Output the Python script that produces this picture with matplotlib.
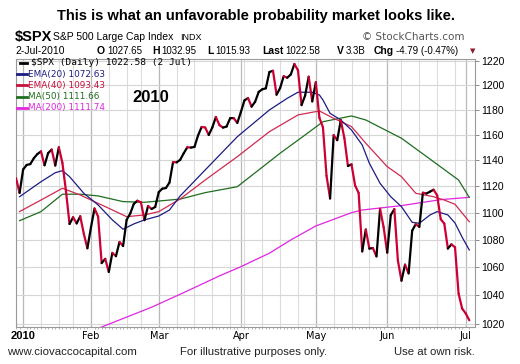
import numpy as np
import pandas as pd
import matplotlib
matplotlib.use('Agg')
import matplotlib.pyplot as plt
from matplotlib.collections import LineCollection
from matplotlib.lines import Line2D
from matplotlib.ticker import NullLocator

# daily closes, 30-Dec-2009 .. 2-Jul-2010
price = [1126.42, 1115.10,
         1132.99, 1136.52, 1137.14, 1141.69, 1144.98, 1146.98, 1136.22, 1145.68, 1148.46, 1136.03,
         1150.23, 1138.04, 1116.48, 1091.76, 1096.78, 1092.17, 1097.50, 1084.53, 1073.87,
         1089.19, 1103.32, 1097.28, 1063.11, 1066.19, 1056.74, 1070.52, 1068.13, 1078.47, 1075.51,
         1094.87, 1099.51, 1106.75, 1109.17, 1108.01, 1094.60, 1105.24, 1102.94, 1104.49,
         1115.71, 1118.31, 1118.79, 1122.97, 1138.70, 1138.50, 1140.45, 1145.61, 1150.24, 1149.99,
         1150.51, 1159.46, 1166.21, 1165.83, 1159.90, 1165.81, 1174.17, 1167.72, 1165.73, 1166.59,
         1173.22, 1173.27, 1169.43,
         1178.10, 1187.44, 1189.44, 1182.45, 1186.44, 1194.37, 1196.48, 1197.30, 1210.65, 1211.67,
         1192.13, 1197.52, 1207.17, 1205.94, 1208.67, 1217.28, 1212.05, 1183.71, 1191.36, 1206.78,
         1186.69,
         1202.26, 1173.60, 1165.90, 1128.15, 1110.88, 1159.73, 1155.79, 1171.67, 1157.44, 1135.68,
         1136.94, 1120.80, 1115.05, 1071.59, 1087.69, 1073.65, 1074.03, 1067.95, 1103.06, 1089.41,
         1070.71, 1098.38, 1102.83, 1064.88, 1050.47, 1062.00, 1055.69, 1086.84, 1091.60, 1089.63,
         1115.23, 1114.61, 1116.04, 1117.51, 1113.20, 1095.31, 1092.04, 1073.69, 1076.76, 1074.57,
         1041.24, 1030.71,
         1027.37, 1022.58]

holidays = ['2010-01-01', '2010-01-18', '2010-02-15', '2010-04-02', '2010-05-31']

# moving averages at sample dates
ema20_dates = ['2009-12-31', '2010-01-11', '2010-01-15', '2010-01-20', '2010-01-22', '2010-01-28',
               '2010-02-03', '2010-02-09', '2010-02-12', '2010-02-18', '2010-02-23', '2010-03-01',
               '2010-03-04', '2010-03-09', '2010-03-18', '2010-03-31', '2010-04-14', '2010-04-21',
               '2010-04-26', '2010-04-30', '2010-05-04', '2010-05-05', '2010-05-07', '2010-05-12',
               '2010-05-17', '2010-05-20', '2010-05-24', '2010-05-27', '2010-06-02', '2010-06-07',
               '2010-06-10', '2010-06-14', '2010-06-17', '2010-06-21', '2010-06-24', '2010-06-28',
               '2010-06-30', '2010-07-02']
ema20_vals = [1112.2, 1123.6, 1130.5, 1132.1, 1127.5, 1114.8,
              1106.0, 1094.8, 1087.9, 1091.8, 1094.8, 1097.7,
              1102.2, 1112.8, 1132.6, 1158.5, 1179.8, 1189.2,
              1194.1, 1194.1, 1191.9, 1187.8, 1177.1, 1171.8,
              1163.8, 1152.0, 1137.8, 1122.4, 1112.2, 1104.7,
              1093.0, 1092.3, 1098.5, 1101.0, 1098.5, 1092.5,
              1082.0, 1072.63]

ema40_dates = ['2009-12-31', '2010-01-11', '2010-01-20', '2010-01-27', '2010-02-01', '2010-02-08',
               '2010-02-16', '2010-02-23', '2010-03-01', '2010-03-09', '2010-03-18', '2010-03-31',
               '2010-04-14', '2010-04-26', '2010-05-04', '2010-05-10', '2010-05-17', '2010-05-21',
               '2010-06-01', '2010-06-07', '2010-06-11', '2010-06-18', '2010-06-23', '2010-06-28',
               '2010-07-02']
ema40_vals = [1101.0, 1109.7, 1118.6, 1113.5, 1109.7, 1103.5,
              1097.2, 1098.5, 1101.0, 1110.5, 1124.9, 1142.9,
              1162.5, 1175.8, 1179.0, 1173.1, 1166.5, 1153.4,
              1135.2, 1127.5, 1114.8, 1112.2, 1109.7, 1106.5,
              1093.43]

ma50_dates = ['2009-12-31', '2010-01-11', '2010-01-20', '2010-01-27', '2010-02-03', '2010-02-12',
              '2010-02-23', '2010-03-09', '2010-03-18', '2010-03-31', '2010-04-09', '2010-04-19',
              '2010-04-28', '2010-05-05', '2010-05-17', '2010-05-21', '2010-06-07', '2010-06-18',
              '2010-06-29', '2010-07-02']
ma50_vals = [1094.2, 1101.0, 1114.1, 1114.1, 1112.8, 1108.5,
             1108.0, 1110.4, 1115.3, 1119.8, 1132.6, 1145.6,
             1159.9, 1170.4, 1175.0, 1171.8, 1157.3, 1139.0,
             1124.9, 1111.66]

ma200_dates = ['2010-02-02', '2010-02-04', '2010-02-25', '2010-03-10', '2010-03-24', '2010-04-01',
               '2010-04-07', '2010-04-14', '2010-04-22', '2010-05-03', '2010-05-17', '2010-05-20',
               '2010-06-07', '2010-06-22', '2010-07-02']
ma200_vals = [1015.5, 1017.9, 1031.7, 1042.0, 1053.9, 1060.5,
              1064.2, 1070.3, 1080.0, 1090.3, 1100.2, 1102.2,
              1105.5, 1110.0, 1111.74]

yticks = [1020, 1040, 1060, 1080, 1100, 1120, 1140, 1160, 1180, 1200, 1220]
month_labels = ['2010', 'Feb', 'Mar', 'Apr', 'May', 'Jun', 'Jul']

days = pd.bdate_range('2009-12-30', '2010-07-02')
days = days[~days.isin(pd.to_datetime(holidays))]
x = np.arange(len(days))


def pos(ds):
    return days.get_indexer(pd.to_datetime(ds))


W, H = 520, 364


def fx(v):
    return v / W


def fy(v):
    return 1 - v / H


fig = plt.figure(figsize=(5.2, 3.64), dpi=100)
ax = fig.add_axes([fx(16), fy(327), (475 - 16) / W, (327 - 59) / H])

ax.set_yscale('log')
ax.set_xlim(0.64, 128.6)
ax.set_ylim(1017.9, 1221.4)

# grid
week_start = [k for k in range(len(days)) if k == 0 or days[k].weekday() < days[k - 1].weekday()]
month_start = [k for k in range(1, len(days)) if days[k].month != days[k - 1].month]
for k in week_start:
    ax.axvline(k, color='#dcdcdc', lw=0.8, zorder=0)
for k in month_start:
    ax.axvline(k, color='#b8b8b8', lw=0.9, zorder=0)
for v in yticks:
    ax.axhline(v, color='#d6d6d6', lw=0.8, zorder=0)

ax.plot(pos(ma200_dates), ma200_vals, color='#e026e0', lw=0.9, zorder=2)
ax.plot(pos(ma50_dates), ma50_vals, color='#1f6e1f', lw=0.9, zorder=2)
ax.plot(pos(ema40_dates), ema40_vals, color='#d02a50', lw=0.9, zorder=3)
ax.plot(pos(ema20_dates), ema20_vals, color='#1c1c84', lw=0.9, zorder=3)

pts = np.column_stack([x, price])
segs = np.stack([pts[:-1], pts[1:]], axis=1)
cols = ['#000000' if price[k + 1] >= price[k] else '#cc0033' for k in range(len(price) - 1)]
ax.add_collection(LineCollection(segs, colors=cols, linewidths=1.6,
                                 capstyle='round', joinstyle='round', zorder=5))

# axes styling
for s in ax.spines.values():
    s.set_color('#9a9a9a')
    s.set_linewidth(0.8)
ax.yaxis.tick_right()
ax.set_yticks(yticks)
ax.yaxis.set_minor_locator(NullLocator())
ax.set_yticklabels([str(v) for v in yticks], fontsize=7.5, family='Liberation Sans')
ax.tick_params(axis='y', length=3, width=0.6, color='#777777', pad=1.5)

ax.set_xticks(month_start)
ax.set_xticklabels(month_labels)
ax.set_xticks(x, minor=True)
ax.tick_params(axis='x', which='major', length=0, pad=3)
ax.tick_params(axis='x', which='minor', length=1.5, width=0.5, color='#999999')
for k, lab in enumerate(ax.get_xticklabels()):
    if k == 0:
        lab.set_fontfamily('Liberation Sans')
        lab.set_fontweight('bold')
        lab.set_fontsize(8)
    else:
        lab.set_fontfamily('DejaVu Sans')
        lab.set_fontsize(7)

# title and header
fig.text(fx(256), fy(16), 'This is what an unfavorable probability market looks like.',
         ha='center', va='center', fontsize=10.5, fontweight='bold', family='Liberation Sans')
fig.text(fx(15), fy(37), '$SPX', ha='left', va='center', fontsize=10.5, fontweight='bold',
         family='Liberation Sans', parse_math=False)
fig.text(fx(53), fy(37.5), 'S&P 500 Large Cap Index', ha='left', va='center', fontsize=7.5,
         family='Liberation Sans')
fig.text(fx(180), fy(37.5), 'INDX', ha='left', va='center', fontsize=6.5, family='Liberation Sans')
fig.text(fx(465), fy(37.5), '\u00a9 StockCharts.com', ha='right', va='center', fontsize=7.5,
         family='DejaVu Sans', color='#555555')

fig.text(fx(15), fy(51), '2-Jul-2010', ha='left', va='center', fontsize=7.5,
         family='Liberation Sans')
row2 = [(97, 'O', '1027.65'), (152, 'H', '1032.95'), (207, 'L', '1015.93'),
        (262, 'Last', '1022.58'), (337, 'V', '3.3B'), (374, 'Chg', '-4.79 (-0.47%)')]
renderer = fig.canvas.get_renderer()
for px, key, val in row2:
    t = fig.text(fx(px), fy(51), key, ha='left', va='center', fontsize=7.5, fontweight='bold',
                 family='Liberation Sans')
    w = t.get_window_extent(renderer).width
    fig.text(fx(px + w + 2), fy(51), val, ha='left', va='center', fontsize=7,
             family='Liberation Sans')
fig.text(fx(472.5), fy(51), '\u25bc', ha='center', va='center', fontsize=5, color='#8b1a2b',
         family='DejaVu Sans')

# legend
fig.add_artist(Line2D([fx(20), fx(27)], [fy(62.5), fy(62.5)], color='black', lw=2))
fig.text(fx(31), fy(62.5), '$SPX (Daily) 1022.58 (2 Jul)', ha='left', va='center', fontsize=6.8,
         family='DejaVu Sans Mono', parse_math=False)
leg = [('EMA(20) 1072.63', '#1c1c84', 74), ('EMA(40) 1093.43', '#c8103c', 85.3),
       ('MA(50) 1111.66', '#1f6e1f', 96.7), ('MA(200) 1111.74', '#e026e0', 107.7)]
for t, c, yy in leg:
    fig.add_artist(Line2D([fx(17), fx(27)], [fy(yy), fy(yy)], color=c, lw=2))
    fig.text(fx(28), fy(yy), t, ha='left', va='center', fontsize=6.4, family='DejaVu Sans', color=c)
fig.text(fx(151), fy(97), '2010', ha='center', va='center', fontsize=12, fontweight='bold',
         family='Liberation Sans')

# footer
fig.text(fx(7), fy(352), 'www.ciovaccocapital.com', ha='left', va='center', fontsize=8.2,
         family='Liberation Sans', color='#222222')
fig.text(fx(254), fy(352), 'For illustrative purposes only.', ha='center', va='center',
         fontsize=8.2, family='Liberation Sans', color='#222222')
fig.text(fx(475), fy(352), 'Use at own risk.', ha='right', va='center', fontsize=8.2,
         family='Liberation Sans', color='#222222')

fig.savefig('out.png', dpi=100)
